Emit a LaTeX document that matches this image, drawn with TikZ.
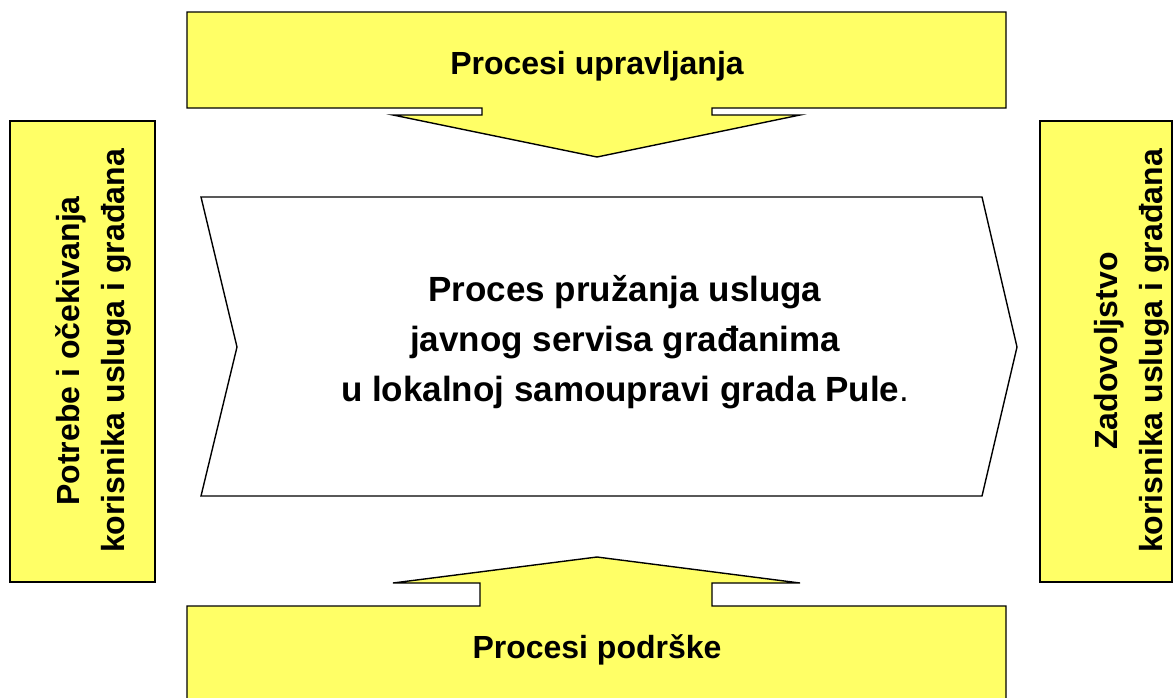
\documentclass[tikz,border=0pt]{standalone}
\usepackage{fontspec}
\setmainfont{Liberation Sans}
\usepackage{xcolor}
\usetikzlibrary{positioning}
\definecolor{procyellow}{HTML}{FFFF66}

\begin{document}
\begin{tikzpicture}[x=1pt, y=-1pt,
  shp/.style={draw, line width=1.4pt, line join=miter},
  yel/.style={shp, fill=procyellow},
  lbl/.style={font=\bfseries\fontsize{32}{45}\selectfont, align=center, inner sep=0pt},
  mainlbl/.style={font=\bfseries\fontsize{35}{50}\selectfont, align=center, inner sep=0pt}
]
\useasboundingbox (0,0) rectangle (1174,697);
\clip (0,0) rectangle (1174,697);

% upravljanje (top)
\draw[yel] (187,12) -- (1006,12) -- (1006,108) -- (712,108) -- (712,115) -- (800,115)
  -- (597,157) -- (393,115) -- (482,115) -- (482,108) -- (187,108) -- cycle;
% podrska (bottom)
\draw[yel] (187,712) -- (187,606) -- (480,606) -- (480,583) -- (393,583) -- (597,557)
  -- (800,583) -- (712,583) -- (712,606) -- (1006,606) -- (1006,712);
% glavni proces
\draw[shp, fill=white] (201,197) -- (982,197) -- (1017,347) -- (982,496) -- (201,496)
  -- (237,347) -- cycle;
% ulaz / izlaz
\draw[yel] (10,121) rectangle (155,582);
\draw[yel] (1040,121) rectangle (1172,582);

\node[lbl] (upravljanje) at (597,66) {Procesi upravljanja};
\node[lbl] (podrska) at (597,650) {Procesi podrške};
\node[mainlbl] (proces) at (625,342) {Proces pružanja usluga\\javnog servisa građanima\\u lokalnoj samoupravi grada Pule{\mdseries .}};
\node[lbl, rotate=90] (potrebe) at (93,351) {Potrebe i očekivanja\\korisnika usluga i građana};
\node[lbl, rotate=90] (zadovoljstvo) at (1132,351) {Zadovoljstvo\\korisnika usluga i građana};
\end{tikzpicture}
\end{document}
